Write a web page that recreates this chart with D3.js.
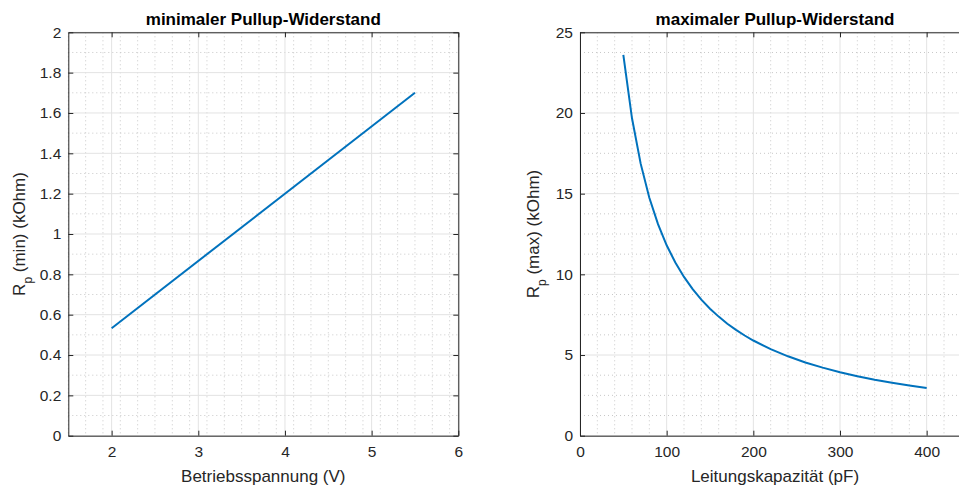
<!DOCTYPE html>
<html>
<head>
<meta charset="utf-8">
<script src="https://cdn.jsdelivr.net/npm/d3@7"></script>
<style>
  body { margin: 0; background: #fff; }
  svg { display: block; font-family: "Liberation Sans", Arial, sans-serif; }
</style>
</head>
<body>
<div id="chart"></div>
<script>
// Left plot: minimal pull-up resistance over supply voltage
var voltage = [2, 5.5];
var rpMin = [0.533, 1.7];

// Right plot: maximal pull-up resistance over bus capacitance
var capacity = [50, 60, 70, 80, 90, 100, 110, 120, 130, 140, 150, 160, 170, 180, 190,
  200, 220, 240, 260, 280, 300, 320, 340, 360, 380, 400];
var rpMax = [23.6, 19.67, 16.86, 14.75, 13.11, 11.8, 10.73, 9.84, 9.08, 8.43, 7.87, 7.38,
  6.94, 6.56, 6.21, 5.9, 5.36, 4.92, 4.54, 4.22, 3.93, 3.69, 3.47, 3.28, 3.11, 2.95];

var leftXTicks = [2, 3, 4, 5, 6];
var leftYTicks = [0, 0.2, 0.4, 0.6, 0.8, 1, 1.2, 1.4, 1.6, 1.8, 2];
var rightXTicks = [0, 100, 200, 300, 400];
var rightYTicks = [0, 5, 10, 15, 20, 25];

var W = 959, H = 488;
var svg = d3.select('#chart').append('svg').attr('width', W).attr('height', H);

var axisColor = '#262626';
var lineColor = '#0072BD';

function range(a, b, step) {
  var out = [];
  for (var v = a; v <= b + step * 1e-6; v += step) out.push(+v.toFixed(6));
  return out;
}

function panel(opt) {
  var x = d3.scaleLinear().domain(opt.xDomain).range([opt.left, opt.right]);
  var y = d3.scaleLinear().domain(opt.yDomain).range([opt.bottom, opt.top]);
  var g = svg.append('g');

  // minor grid (dotted)
  var minorX = range(opt.xDomain[0], opt.xDomain[1], opt.xMinor).filter(function(v){
    return opt.xTicks.indexOf(v) < 0; });
  var minorY = range(opt.yDomain[0], opt.yDomain[1], opt.yMinor).filter(function(v){
    return opt.yTicks.indexOf(v) < 0; });
  g.selectAll('.minx').data(minorX).enter().append('line')
    .attr('x1', x).attr('x2', x).attr('y1', opt.top).attr('y2', opt.bottom)
    .attr('stroke', '#c8c8c8').attr('stroke-width', 1).attr('stroke-dasharray', '1,3');
  g.selectAll('.miny').data(minorY).enter().append('line')
    .attr('y1', y).attr('y2', y).attr('x1', opt.left).attr('x2', opt.right)
    .attr('stroke', '#c8c8c8').attr('stroke-width', 1).attr('stroke-dasharray', '1,3');

  // major grid
  g.selectAll('.majx').data(opt.xTicks).enter().append('line')
    .attr('x1', x).attr('x2', x).attr('y1', opt.top).attr('y2', opt.bottom)
    .attr('stroke', '#e3e3e3').attr('stroke-width', 1);
  g.selectAll('.majy').data(opt.yTicks).enter().append('line')
    .attr('y1', y).attr('y2', y).attr('x1', opt.left).attr('x2', opt.right)
    .attr('stroke', '#e3e3e3').attr('stroke-width', 1);

  // data line
  var pts = opt.xs.map(function(v, i){ return [v, opt.ys[i]]; });
  g.append('path').datum(pts)
    .attr('d', d3.line().x(function(d){ return x(d[0]); }).y(function(d){ return y(d[1]); }))
    .attr('fill', 'none').attr('stroke', lineColor).attr('stroke-width', 2);

  // axes (inner ticks, box)
  var ax = g.append('g');
  ax.append('g').attr('transform', 'translate(0,' + opt.bottom + ')')
    .call(d3.axisBottom(x).tickValues(opt.xTicks).tickSizeInner(-5).tickSizeOuter(0)
      .tickPadding(10).tickFormat(d3.format('~g')));
  ax.append('g').attr('transform', 'translate(0,' + opt.top + ')')
    .call(d3.axisTop(x).tickValues(opt.xTicks).tickSizeInner(-5).tickSizeOuter(0).tickFormat(''));
  ax.append('g').attr('transform', 'translate(' + opt.left + ',0)')
    .call(d3.axisLeft(y).tickValues(opt.yTicks).tickSizeInner(-5).tickSizeOuter(0)
      .tickPadding(7).tickFormat(d3.format('~g')));
  ax.append('g').attr('transform', 'translate(' + opt.right + ',0)')
    .call(d3.axisRight(y).tickValues(opt.yTicks).tickSizeInner(-5).tickSizeOuter(0).tickFormat(''));
  ax.selectAll('.domain').attr('stroke', axisColor).attr('stroke-width', 1);
  ax.selectAll('.tick line').attr('stroke', axisColor);
  ax.selectAll('.tick text').attr('fill', axisColor)
    .attr('font-family', '"Liberation Sans", Arial, sans-serif').attr('font-size', 15.5);

  // title
  g.append('text').attr('x', (opt.left + opt.right) / 2).attr('y', 25)
    .attr('text-anchor', 'middle').attr('font-weight', 'bold').attr('font-size', 17)
    .attr('fill', '#000').text(opt.title);

  // x label
  g.append('text').attr('x', (opt.left + opt.right) / 2).attr('y', 482)
    .attr('text-anchor', 'middle').attr('font-size', 17).attr('fill', axisColor).text(opt.xLabel);

  // y label with subscript
  var yl = g.append('text')
    .attr('transform', 'translate(' + opt.yLabelX + ',' + (opt.top + opt.bottom) / 2 + ') rotate(-90)')
    .attr('text-anchor', 'middle').attr('font-size', 17).attr('fill', axisColor);
  yl.append('tspan').text('R');
  yl.append('tspan').attr('font-size', 12).attr('dy', 7).text('p');
  yl.append('tspan').attr('dy', -7).text(' ' + opt.yLabelRest);
}

panel({
  left: 68.3, right: 458.3, top: 32.3, bottom: 435.7,
  xDomain: [1.5, 6], yDomain: [0, 2],
  xTicks: leftXTicks, yTicks: leftYTicks, xMinor: 0.2, yMinor: 0.1,
  xs: voltage, ys: rpMin,
  title: 'minimaler Pullup-Widerstand', xLabel: 'Betriebsspannung (V)',
  yLabelRest: '(min) (kOhm)', yLabelX: 25
});

panel({
  left: 580, right: 970, top: 32.3, bottom: 435.7,
  xDomain: [0, 450], yDomain: [0, 25],
  xTicks: rightXTicks, yTicks: rightYTicks, xMinor: 20, yMinor: 1.25,
  xs: capacity, ys: rpMax,
  title: 'maximaler Pullup-Widerstand', xLabel: 'Leitungskapazität (pF)',
  yLabelRest: '(max) (kOhm)', yLabelX: 539
});
</script>
</body>
</html>
